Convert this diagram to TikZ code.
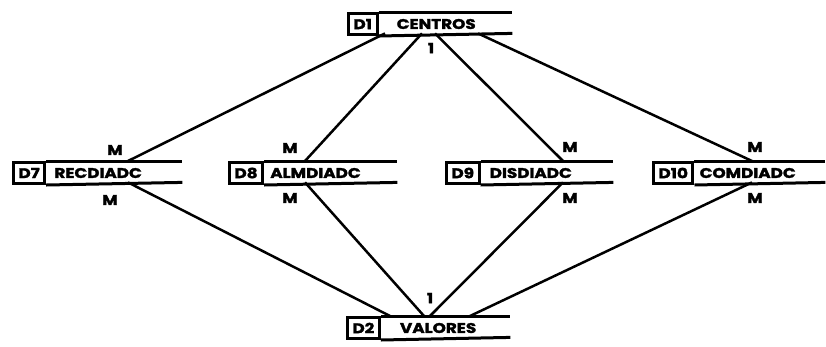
\documentclass[tikz,border=0pt]{standalone}
\usepackage{fontspec}
\usepackage{tikz}
\usetikzlibrary{calc,positioning}
\newfontfamily\storefont{Poppins}[FakeStretch=1.2, BoldFeatures={FakeBold=2}]

\tikzset{
	store/.style={rectangle, inner sep=0pt, minimum height=21pt, anchor=north west},
	storeid/.style={rectangle, draw, line width=3pt, inner xsep=5pt, inner ysep=0pt, minimum height=21pt, anchor=north west, font=\storefont\bfseries\fontsize{14}{14}\selectfont},
	storename/.style={inner sep=0pt, font=\storefont\bfseries\fontsize{14}{14}\selectfont},
	storeline/.style={line width=3pt},
	link/.style={line width=2.5pt},
	mult/.style={inner sep=0pt, font=\storefont\bfseries\fontsize{14}{14}\selectfont}
}

% name, x, y, width, id, label, gap
\newcommand\datastore[7]{
	\node[store, minimum width=#4pt] (#1) at (#2,#3) {};
	\node[storeid] (#1id) at (#1.north west) {#5};
	\node[storename, right=#7pt of #1id] (#1name) {#6};
	\draw[storeline] (#1id.north east) -- (#1.north east);
	\draw[storeline] (#1id.south east) -- (#1.south east);
}

\begin{document}
\begin{tikzpicture}[x=1pt, y=-1pt]
		%%%%% START %%%%%
		\useasboundingbox (0,0) rectangle (826,346);
		
		\datastore{d1}{347}{12}{165}{D1}{CENTROS}{18}
		
		\datastore{d7}{12}{161}{170}{D7}{RECDIADC}{8}
		\datastore{d8}{228}{161}{169}{D8}{ALMDIADC}{6}
		\datastore{d9}{445}{161}{168}{D9}{DISDIADC}{9}
		\datastore{d10}{652}{161}{173}{D10}{COMDIADC}{5}
		
		\datastore{d2}{346}{316}{164}{D2}{VALORES}{19}
		
		% upper relations
		\draw[link] ($(d1.south west)+(38,0)$) -- ($(d7.north west)+(116,0)$);
		\draw[link] ($(d1.south west)+(75,0)$) -- ($(d8.north west)+(77,0)$);
		\draw[link] ($(d1.south west)+(88,0)$) -- ($(d9.north west)+(118,0)$);
		\draw[link] ($(d1.south west)+(131,0)$) -- ($(d10.north west)+(100,0)$);
		
		% lower relations
		\draw[link] ($(d7.south west)+(116,0)$) -- ($(d2.north west)+(44,0)$);
		\draw[link] ($(d8.south west)+(77,0)$) -- ($(d2.north west)+(78,0)$);
		\draw[link] ($(d9.south west)+(118,0)$) -- ($(d2.north west)+(84,0)$);
		\draw[link] ($(d10.south west)+(100,0)$) -- ($(d2.north west)+(124,0)$);
		
		\node[mult] (c1) at (431,48) {1};
		\node[mult] (c2) at (430,298) {1};
		
		\node[mult] (m7a) at (115,150) {M};
		\node[mult] (m7b) at (110,200) {M};
		\node[mult] (m8a) at (290,148) {M};
		\node[mult] (m8b) at (290,198) {M};
		\node[mult] (m9a) at (570,147) {M};
		\node[mult] (m9b) at (570,198) {M};
		\node[mult] (m10a) at (755,147) {M};
		\node[mult] (m10b) at (755,198) {M};
		
		%%%%% END %%%%%
	\end{tikzpicture}
\end{document}
